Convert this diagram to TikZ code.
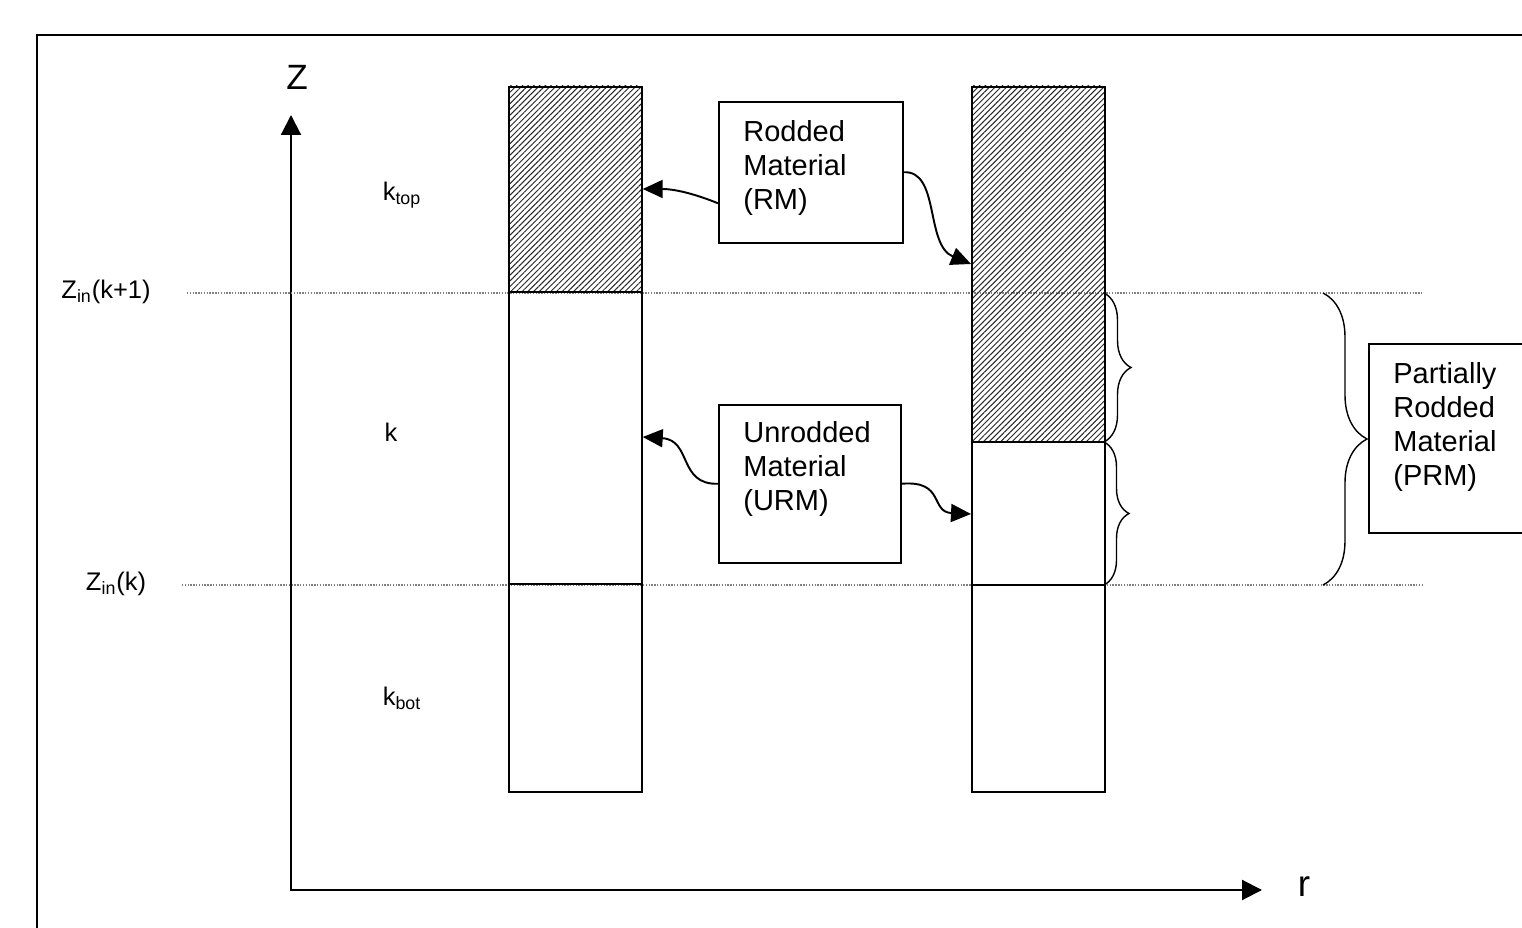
\documentclass[tikz,border=0pt]{standalone}
\usepackage{fontspec}
\setmainfont{Liberation Sans}
\usetikzlibrary{arrows.meta, patterns.meta, decorations.pathreplacing, calc}

\begin{document}
\begin{tikzpicture}[x=0.02cm, y=-0.02cm,
  lbl/.style={font=\fontsize{14.5}{17}\selectfont, inner sep=0pt},
  boxtext/.style={font=\fontsize{16.5}{19.3}\selectfont, inner sep=0pt, align=left, anchor=north west},
  matbox/.style={draw, line width=0.9pt, anchor=north west, inner sep=0pt},
  col/.style={draw, line width=1pt, anchor=north west, inner sep=0pt, minimum width=2.66cm, minimum height=14.1cm},
  rod/.style={pattern={Lines[angle=45, distance=2.3pt, line width=0.55pt]}, pattern color=black!85},
  level/.style={gray, line width=0.7pt, dash pattern=on 0.8pt off 0.8pt},
  tip/.style={-{Triangle[length=0.4cm, width=0.36cm]}, line width=1.1pt},
  curly/.style={decorate, decoration={brace, amplitude=#1}, line width=0.8pt}]
  \def\zl{293}
  \def\zu{585}

  \clip (0,0) rectangle (1522,928);

  %frame
  \draw[line width=1pt] (37,928) -- (37,35) -- (1522,35);

  %axes
  \draw[{Triangle[length=0.4cm, width=0.4cm]}-{Triangle[length=0.4cm, width=0.4cm]}, line width=1.2pt] (291,115) -- (291,890) -- (1262,890);
  \node (zlab) [font=\fontsize{20}{24}\selectfont, inner sep=0pt] at (297,77) {Z};
  \node (rlab) [font=\fontsize{21}{24}\selectfont, inner sep=0pt] at (1304,887) {r};

  %levels
  \draw[level] (187,\zl) -- (1422,\zl);
  \draw[level] (182,\zu) -- (1422,\zu);
  \node (zk1) [lbl] at (106,292) {Z\textsubscript{in}(k+1)};
  \node (zk) [lbl] at (116,584) {Z\textsubscript{in}(k)};
  \node (ktop) [lbl] at (402,195) {k\textsubscript{top}};
  \node (kmid) [lbl] at (391,432) {k};
  \node (kbot) [lbl] at (402,698) {k\textsubscript{bot}};

  %left column
  \fill[rod] (508,86) rectangle (641,292);
  \node (lcol) [col] at (508,86) {};
  \draw[line width=1pt] (508,292) -- (641,292);
  \draw[line width=1pt] (508,584) -- (641,584);

  %right column
  \fill[rod] (971,86) rectangle (1104,442);
  \node (rcol) [col] at (971,86) {};
  \draw[line width=1pt] (971,442) -- (1104,442);
  \draw[line width=1pt] (971,585) -- (1104,585);

  %material boxes
  \node (rmbox) [matbox, minimum width=3.68cm, minimum height=2.82cm] at (718,101) {};
  \node (rmtext) [boxtext] at (743,120) {Rodded\\Material\\(RM)};
  \node (urmbox) [matbox, minimum width=3.64cm, minimum height=3.16cm] at (718,404) {};
  \node (urmtext) [boxtext] at (743,421) {Unrodded\\Material\\(URM)};
  \node (prmbox) [matbox, minimum width=4cm, minimum height=3.78cm] at (1368,343) {};
  \node (prmtext) [boxtext] at (1393,362) {Partially\\Rodded\\Material\\(PRM)};

  %arrows
  \draw[tip] ($(rmbox.west)+(0,31)$) .. controls (695,194) and (675,189) .. ($(lcol.north east)+(0,103)$);
  \draw[tip] (rmbox.east) .. controls (940,170) and (925,245) .. ($(rcol.north west)+(0,178)$);
  \draw[tip] (urmbox.west) .. controls (678,485) and (692,440) .. ($(lcol.north east)+(0,351)$);
  \draw[tip] (urmbox.east) .. controls (945,480) and (930,512) .. ($(rcol.north west)+(0,428)$);

  %braces
  \draw[curly=0.54cm] (1104,\zl) -- (1104,442);
  \draw[curly=0.5cm] (1104,442) -- (1104,\zu);
  \draw[curly=0.88cm] (1323,\zl) -- (1323,\zu);
\end{tikzpicture}
\end{document}
